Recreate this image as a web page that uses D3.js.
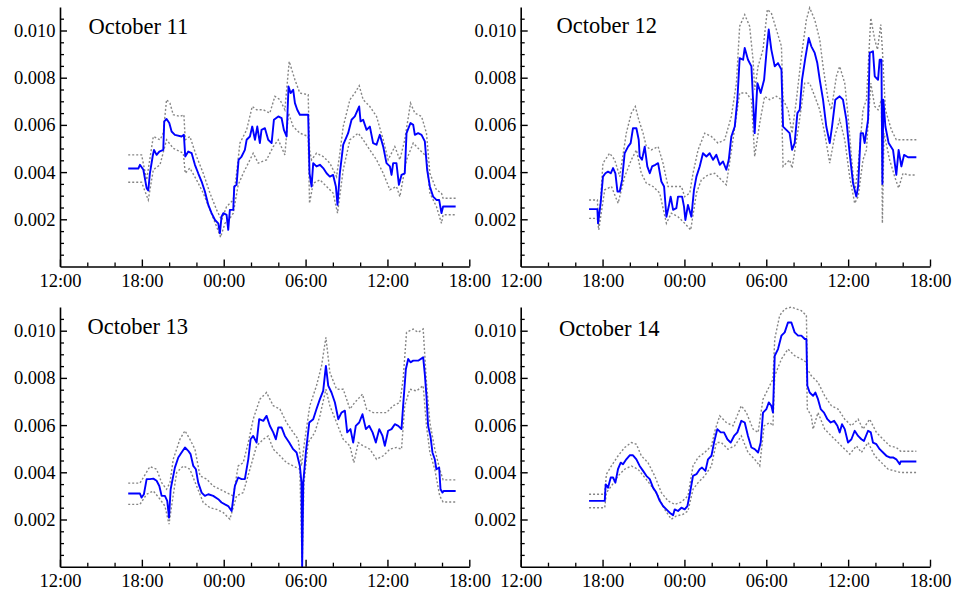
<!DOCTYPE html>
<html><head><meta charset="utf-8">
<script src="https://cdn.jsdelivr.net/npm/d3@7"></script>
<style>
body{margin:0;background:#fff}
svg{display:block}
text{font-family:"Liberation Serif","Times New Roman",serif !important;fill:#000}
</style>
</head><body>
<svg id="chart" width="957" height="596"></svg>
<script>
// Time = hours after 12:00 of the previous day; values in units of 1e-3
const panelTitles = ["October 11", "October 12", "October 13", "October 14"];
const xTickHours = [0, 6, 12, 18, 24, 30];
const xTickLabels = ["12:00", "18:00", "00:00", "06:00", "12:00", "18:00"];
const yTickValues = [0.002, 0.004, 0.006, 0.008, 0.010];

const oct11Mid = [[5.0,4.15],[5.74,4.15],[5.86,4.31],[6.11,4.10],[6.35,3.32],[6.47,3.22],[6.59,3.95],[6.79,4.66],[6.89,4.94],[7.08,4.73],[7.28,4.87],[7.57,4.94],[7.64,6.15],[7.81,6.25],[8.01,6.08],[8.18,5.72],[8.42,5.58],[8.91,5.51],[9.08,5.58],[9.18,4.66],[9.40,4.87],[9.65,4.80],[9.89,4.31],[10.13,3.95],[10.38,3.60],[10.62,3.18],[10.87,2.61],[11.11,2.26],[11.36,1.97],[11.60,1.83],[11.72,1.41],[11.84,2.11],[11.97,2.26],[12.21,2.19],[12.33,1.55],[12.45,2.40],[12.70,2.40],[12.77,3.39],[12.94,3.46],[13.09,4.52],[13.31,4.66],[13.55,4.94],[13.68,5.37],[13.92,5.51],[14.09,5.93],[14.29,5.37],[14.46,5.93],[14.65,5.23],[14.77,5.79],[15.02,5.86],[15.26,5.37],[15.51,5.23],[15.68,6.22],[16.00,6.36],[16.24,6.29],[16.41,5.79],[16.61,5.51],[16.75,7.63],[16.90,7.35],[17.09,7.49],[17.22,6.92],[17.39,6.64],[17.58,6.43],[18.19,6.43],[18.29,3.95],[18.44,3.39],[18.56,4.38],[18.80,4.24],[19.05,4.31],[19.29,4.17],[19.54,3.95],[19.78,3.81],[20.02,3.88],[20.22,3.39],[20.34,2.61],[20.51,3.95],[20.76,5.16],[21.12,5.65],[21.37,6.22],[21.61,6.36],[21.93,6.78],[22.03,6.15],[22.22,6.22],[22.47,5.79],[22.71,5.93],[22.95,5.23],[23.20,5.16],[23.44,5.58],[23.69,5.08],[23.93,4.38],[24.18,4.24],[24.30,3.88],[24.42,4.38],[24.66,4.38],[24.84,3.46],[25.03,3.88],[25.27,3.95],[25.40,5.65],[25.69,6.08],[25.89,6.00],[26.01,5.58],[26.25,5.65],[26.50,5.58],[26.74,5.30],[26.91,4.10],[27.11,3.39],[27.35,2.96],[27.59,2.82],[27.79,2.82],[27.96,2.26],[28.08,2.54],[29.0,2.54]];
const oct11Up = [[5.0,4.73],[5.98,4.73],[6.35,3.67],[6.84,5.51],[7.33,5.37],[7.57,5.65],[7.81,7.07],[8.06,6.92],[8.30,6.43],[8.79,6.36],[9.08,6.43],[9.18,5.37],[9.52,5.51],[10.01,4.66],[10.50,3.95],[10.99,3.11],[11.48,2.40],[11.84,1.97],[12.21,2.54],[12.70,2.82],[12.94,3.95],[13.19,5.23],[13.68,5.79],[14.09,6.78],[14.41,6.64],[14.90,6.64],[15.38,6.50],[15.75,7.21],[16.12,7.07],[16.48,6.64],[16.80,8.69],[17.22,7.91],[17.58,7.35],[18.19,7.28],[18.29,4.94],[18.44,4.52],[18.80,4.80],[19.29,4.66],[19.78,4.38],[20.27,3.81],[20.51,4.80],[20.76,5.93],[21.25,7.07],[21.61,7.35],[21.93,7.66],[22.22,7.07],[22.71,6.78],[23.20,6.36],[23.69,5.37],[24.05,4.52],[24.54,5.08],[24.91,4.52],[25.27,5.37],[25.69,6.92],[26.01,6.50],[26.50,6.36],[26.86,5.65],[27.11,3.95],[27.59,3.25],[27.96,3.11],[28.08,2.89],[29.0,2.89]];
const oct11Lo = [[5.0,3.57],[5.98,3.57],[6.47,2.82],[6.84,4.10],[7.33,4.31],[7.81,5.37],[8.30,5.01],[9.04,4.80],[9.18,3.95],[9.52,4.17],[10.01,3.67],[10.50,3.11],[10.99,2.40],[11.48,1.69],[11.77,1.24],[12.09,1.83],[12.45,2.04],[12.70,2.26],[13.06,3.46],[13.43,3.95],[14.16,4.80],[14.53,4.38],[15.14,4.52],[15.63,5.08],[16.00,5.37],[16.48,4.73],[16.75,6.50],[17.09,5.93],[17.58,5.65],[18.19,5.51],[18.29,2.68],[18.56,3.53],[19.05,3.67],[19.54,3.39],[20.02,3.11],[20.34,2.26],[20.76,4.10],[21.25,5.37],[21.86,5.65],[22.22,5.37],[22.71,4.94],[23.20,4.52],[23.69,3.95],[24.18,3.25],[24.66,3.39],[24.91,2.96],[25.40,4.52],[25.89,5.23],[26.37,4.94],[26.86,4.66],[27.11,3.11],[27.59,2.54],[27.96,1.83],[28.08,2.19],[29.0,2.19]];

const oct12Mid = [[5.01,2.43],[5.62,2.43],[5.67,1.83],[5.86,2.68],[6.03,3.81],[6.21,3.95],[6.40,4.02],[6.60,3.95],[6.77,4.17],[6.94,3.95],[7.09,3.18],[7.26,3.18],[7.43,3.67],[7.62,4.80],[7.87,5.08],[8.06,5.23],[8.23,5.86],[8.48,5.86],[8.65,5.37],[8.72,4.66],[8.89,4.52],[9.09,5.08],[9.28,4.24],[9.46,3.95],[9.63,4.24],[9.87,4.31],[10.07,4.38],[10.31,3.60],[10.51,3.39],[10.68,2.11],[10.85,2.54],[10.99,2.96],[11.17,2.40],[11.41,2.47],[11.53,2.96],[11.83,2.96],[11.97,2.54],[12.07,1.97],[12.26,2.61],[12.51,2.11],[12.70,3.25],[12.88,3.81],[13.12,4.24],[13.36,4.80],[13.61,4.66],[13.85,4.80],[14.10,4.52],[14.34,4.73],[14.59,4.31],[14.83,4.45],[15.07,4.10],[15.25,4.52],[15.44,5.51],[15.69,5.93],[15.88,7.07],[16.05,8.83],[16.30,8.76],[16.42,9.26],[16.66,8.76],[16.91,8.48],[17.03,7.07],[17.15,5.65],[17.35,7.77],[17.59,7.35],[17.84,7.91],[18.03,9.19],[18.18,10.04],[18.37,9.19],[18.62,8.48],[18.86,8.62],[19.11,8.34],[19.23,5.93],[19.47,5.79],[19.71,5.65],[19.89,4.94],[20.08,5.23],[20.28,6.50],[20.45,6.64],[20.62,7.91],[20.86,8.83],[21.11,9.68],[21.30,9.33],[21.55,9.05],[21.74,8.62],[21.92,7.91],[22.16,7.07],[22.40,5.93],[22.65,5.23],[22.82,5.93],[23.06,7.07],[23.38,7.21],[23.62,7.07],[23.87,6.22],[24.11,4.80],[24.36,3.53],[24.60,2.96],[24.73,3.39],[24.92,5.65],[25.09,5.65],[25.21,5.23],[25.46,6.22],[25.58,9.05],[25.82,9.12],[25.95,8.06],[26.19,7.91],[26.31,8.76],[26.44,8.76],[26.51,3.50],[26.58,7.07],[26.73,5.93],[26.97,5.23],[27.29,4.94],[27.53,3.88],[27.70,4.94],[27.90,4.24],[28.10,4.73],[28.39,4.63],[29.0,4.63]];
const oct12Up = [[5.01,2.82],[5.62,2.82],[5.72,1.69],[6.03,4.38],[6.52,4.80],[6.89,4.52],[7.26,3.81],[7.74,5.65],[8.11,6.50],[8.40,6.78],[8.65,6.22],[8.97,5.65],[9.21,5.08],[9.58,4.94],[10.07,5.08],[10.43,4.38],[10.80,3.39],[11.29,3.39],[11.78,3.39],[12.02,2.96],[12.39,3.11],[12.63,3.95],[13.00,4.94],[13.49,5.65],[13.98,5.51],[14.46,5.23],[14.95,5.37],[15.44,6.36],[15.81,7.77],[16.05,10.18],[16.42,10.67],[16.78,10.18],[17.03,8.76],[17.15,7.49],[17.40,8.48],[17.76,9.19],[18.08,10.89],[18.37,10.74],[18.74,10.04],[19.11,9.33],[19.23,7.07],[19.60,6.64],[19.89,5.65],[20.21,7.07],[20.57,8.90],[20.94,10.46],[21.18,10.96],[21.55,10.46],[21.92,9.61],[22.16,8.48],[22.53,7.07],[22.77,6.64],[23.14,8.06],[23.38,8.48],[23.75,7.77],[24.00,6.36],[24.24,4.66],[24.48,3.11],[24.73,4.24],[25.09,6.64],[25.34,7.07],[25.66,10.53],[25.95,9.61],[26.15,9.19],[26.39,10.25],[26.51,9.19],[26.73,6.64],[27.17,5.79],[27.53,5.37],[27.78,5.37],[29.0,5.37]];
const oct12Lo = [[5.01,2.04],[5.62,2.04],[5.72,1.55],[6.16,3.25],[6.65,3.39],[7.14,2.68],[7.62,3.81],[8.11,4.52],[8.48,4.94],[8.84,3.95],[9.21,3.53],[9.70,3.39],[10.19,3.11],[10.68,1.83],[11.04,2.26],[11.53,2.11],[12.02,1.83],[12.46,1.55],[12.88,3.11],[13.24,3.67],[13.73,3.88],[14.22,3.95],[14.71,3.67],[15.07,3.46],[15.56,5.37],[16.05,7.35],[16.54,7.35],[16.91,7.07],[17.15,4.66],[17.52,6.08],[17.88,7.21],[18.25,7.07],[18.74,7.21],[19.11,7.07],[19.23,4.24],[19.71,4.52],[19.89,4.17],[20.33,5.79],[20.82,7.77],[21.18,7.77],[21.55,7.21],[21.92,6.64],[22.28,5.65],[22.65,4.38],[23.01,5.51],[23.38,6.22],[23.75,5.37],[24.11,3.81],[24.48,2.68],[24.73,2.96],[25.09,4.52],[25.34,4.94],[25.66,7.77],[25.95,6.78],[26.19,6.64],[26.44,7.07],[26.51,1.83],[26.63,5.65],[27.04,4.52],[27.41,3.81],[27.70,3.32],[28.02,3.95],[28.39,3.88],[29.0,3.88]];

const oct13Mid = [[5.0,3.10],[5.86,3.10],[5.98,2.93],[6.15,3.07],[6.35,3.71],[6.59,3.71],[6.84,3.73],[7.08,3.64],[7.28,3.42],[7.45,3.00],[7.69,3.00],[7.86,2.79],[7.99,2.08],[8.11,3.28],[8.30,3.85],[8.42,4.20],[8.67,4.63],[8.91,4.84],[9.16,5.05],[9.40,4.91],[9.57,4.77],[9.77,4.27],[9.96,4.13],[10.13,3.56],[10.38,3.14],[10.62,3.00],[10.87,3.07],[11.23,3.00],[11.60,2.86],[11.84,2.72],[12.09,2.64],[12.33,2.57],[12.58,2.36],[12.82,3.42],[13.06,3.78],[13.31,3.71],[13.55,3.71],[13.80,4.55],[13.97,5.40],[14.16,5.54],[14.41,5.26],[14.60,6.25],[14.90,6.18],[15.14,6.39],[15.38,5.97],[15.63,5.69],[15.82,5.40],[16.00,5.90],[16.24,5.90],[16.48,5.54],[16.80,5.26],[17.09,4.98],[17.34,4.84],[17.58,4.27],[17.70,3.56],[17.75,0.0],[17.83,3.56],[18.02,4.84],[18.27,6.11],[18.56,6.25],[18.80,6.68],[19.05,7.10],[19.29,7.45],[19.49,8.51],[19.66,7.67],[19.90,7.38],[20.15,6.96],[20.40,6.25],[20.63,6.53],[20.88,6.61],[21.05,5.69],[21.29,5.83],[21.49,5.26],[21.68,5.97],[21.93,6.11],[22.17,6.46],[22.42,5.83],[22.66,5.97],[22.91,5.69],[23.15,5.26],[23.40,5.83],[23.64,5.54],[23.81,5.12],[24.05,5.76],[24.30,5.83],[24.54,6.04],[24.79,5.97],[25.03,5.83],[25.15,6.82],[25.35,8.37],[25.52,8.80],[25.69,8.66],[25.89,8.73],[26.25,8.73],[26.62,8.87],[26.74,8.16],[26.86,7.24],[26.98,5.97],[27.15,5.54],[27.30,4.84],[27.47,4.55],[27.59,4.13],[27.79,4.20],[27.89,3.28],[28.03,3.14],[28.13,3.21],[29.0,3.21]];
const oct13Up = [[5.0,3.54],[5.86,3.54],[6.11,3.78],[6.59,4.24],[7.08,4.13],[7.45,3.56],[7.81,3.28],[8.06,3.56],[8.30,4.55],[8.79,5.40],[9.16,5.76],[9.52,5.40],[9.89,4.98],[10.26,3.85],[10.75,3.71],[11.23,3.42],[11.72,3.28],[12.21,3.14],[12.70,3.00],[13.06,4.27],[13.43,4.41],[13.80,5.26],[14.16,6.25],[14.65,7.10],[15.14,7.38],[15.63,6.82],[16.12,6.68],[16.60,6.11],[17.09,5.69],[17.46,5.40],[17.70,4.27],[17.95,5.40],[18.31,6.82],[18.80,7.67],[19.17,8.51],[19.49,9.72],[19.78,8.23],[20.27,7.52],[20.76,7.52],[21.25,6.68],[21.61,6.96],[22.17,7.31],[22.47,6.68],[22.95,6.53],[23.44,6.53],[23.93,6.53],[24.42,6.82],[24.91,6.96],[25.15,7.95],[25.40,9.93],[25.89,10.07],[26.25,9.93],[26.62,10.07],[26.86,7.81],[27.11,6.11],[27.47,4.98],[27.83,4.13],[28.08,3.68],[29.0,3.68]];
const oct13Lo = [[5.0,2.64],[5.86,2.64],[6.35,3.07],[6.84,3.21],[7.33,2.86],[7.69,2.57],[7.99,1.80],[8.18,2.57],[8.55,3.99],[9.04,4.27],[9.52,4.13],[10.01,3.42],[10.50,2.72],[10.99,2.50],[11.48,2.43],[11.97,2.29],[12.45,2.01],[12.94,3.00],[13.43,3.14],[13.92,4.13],[14.41,5.12],[14.90,5.40],[15.26,5.54],[15.63,4.98],[16.12,4.70],[16.60,4.41],[17.09,4.27],[17.58,4.13],[17.75,0.0],[17.88,3.56],[18.19,5.26],[18.68,5.69],[19.05,6.39],[19.49,7.52],[19.78,6.82],[20.27,6.11],[20.76,5.40],[21.25,5.12],[21.54,4.41],[21.86,5.26],[22.22,5.12],[22.71,4.98],[23.20,4.55],[23.69,4.70],[24.18,4.98],[24.66,5.05],[25.03,4.98],[25.27,6.82],[25.64,7.52],[26.13,7.45],[26.62,7.67],[26.86,5.97],[27.11,4.84],[27.47,4.13],[27.83,3.00],[28.08,2.74],[29.0,2.74]];

const oct14Mid = [[5.01,2.79],[6.16,2.79],[6.23,3.49],[6.40,3.35],[6.60,3.78],[6.77,3.78],[6.94,3.56],[7.13,4.13],[7.33,4.41],[7.50,4.34],[7.74,4.55],[7.99,4.72],[8.23,4.72],[8.48,4.55],[8.72,4.27],[8.97,4.06],[9.21,3.85],[9.46,3.71],[9.70,3.35],[9.94,3.14],[10.19,2.79],[10.43,2.57],[10.68,2.43],[10.92,2.29],[11.17,2.18],[11.29,2.43],[11.53,2.36],[11.78,2.50],[12.02,2.43],[12.22,2.57],[12.39,3.07],[12.63,3.85],[12.88,3.92],[13.12,4.13],[13.29,4.20],[13.54,4.06],[13.73,4.55],[13.98,4.70],[14.17,5.26],[14.41,5.83],[14.66,5.69],[14.90,5.69],[15.15,5.40],[15.39,5.26],[15.64,5.54],[15.88,5.69],[16.17,6.18],[16.42,6.11],[16.66,5.54],[16.91,5.05],[17.15,4.98],[17.40,4.84],[17.59,5.26],[17.76,6.53],[18.01,6.68],[18.18,6.96],[18.37,6.82],[18.49,6.53],[18.62,8.94],[18.86,9.22],[19.11,9.79],[19.35,9.93],[19.59,10.35],[19.84,10.35],[20.08,9.93],[20.33,9.79],[20.57,9.79],[20.82,9.65],[20.94,9.65],[21.01,7.67],[21.18,7.38],[21.43,7.24],[21.60,7.38],[21.79,7.10],[21.99,6.68],[22.23,6.53],[22.48,6.25],[22.72,6.11],[22.97,6.18],[23.21,5.97],[23.38,5.69],[23.55,6.04],[23.75,5.83],[23.99,5.26],[24.24,5.40],[24.48,5.76],[24.73,5.54],[24.97,5.40],[25.16,5.33],[25.46,5.76],[25.66,5.69],[25.82,5.26],[26.07,5.19],[26.31,4.98],[26.56,4.84],[26.80,4.70],[27.05,4.63],[27.29,4.63],[27.53,4.55],[27.78,4.34],[27.85,4.46],[29.0,4.46]];
const oct14Up = [[5.01,3.07],[6.16,3.07],[6.28,3.92],[6.65,4.27],[7.14,4.70],[7.62,5.05],[8.11,5.26],[8.48,5.19],[8.84,4.70],[9.33,4.41],[9.82,3.85],[10.31,3.14],[10.80,2.79],[11.29,2.64],[11.78,2.74],[12.26,3.00],[12.63,4.27],[13.00,4.63],[13.49,4.84],[13.98,5.12],[14.27,5.83],[14.59,6.39],[15.07,6.11],[15.56,5.97],[16.17,6.82],[16.54,6.53],[17.03,5.83],[17.40,5.69],[17.76,7.10],[18.25,7.67],[18.49,7.95],[18.62,9.65],[18.98,10.64],[19.35,10.92],[19.84,11.0],[20.21,10.92],[20.57,10.85],[20.94,10.64],[21.01,8.37],[21.30,8.09],[21.79,7.81],[22.28,7.24],[22.77,6.82],[23.26,6.68],[23.75,6.25],[24.24,5.97],[24.73,6.25],[25.09,5.83],[25.58,6.25],[26.07,5.69],[26.56,5.40],[27.05,5.12],[27.53,5.05],[27.85,4.89],[29.0,4.89]];
const oct14Lo = [[5.01,2.50],[6.16,2.50],[6.28,3.14],[6.65,3.42],[7.14,3.85],[7.62,4.13],[8.11,4.27],[8.60,4.13],[9.09,3.78],[9.58,3.42],[10.07,3.00],[10.55,2.43],[11.04,2.01],[11.41,2.15],[11.90,2.22],[12.26,2.36],[12.63,3.28],[13.00,3.56],[13.49,3.85],[13.98,4.27],[14.34,5.26],[14.71,5.26],[15.19,4.98],[15.68,5.12],[16.17,5.54],[16.66,4.84],[17.15,4.55],[17.52,4.27],[17.84,5.97],[18.25,6.11],[18.49,5.97],[18.62,8.09],[19.11,8.80],[19.59,9.22],[20.08,8.94],[20.57,8.80],[20.94,8.66],[21.01,6.68],[21.30,6.39],[21.43,5.83],[21.79,6.53],[22.28,5.83],[22.77,5.54],[23.26,5.26],[23.75,4.98],[24.12,4.77],[24.61,5.12],[24.97,4.84],[25.46,5.26],[25.95,4.70],[26.44,4.41],[26.93,4.13],[27.41,4.06],[27.85,3.99],[29.0,3.99]];

const panelData = [
  {mid: oct11Mid, up: oct11Up, lo: oct11Lo},
  {mid: oct12Mid, up: oct12Up, lo: oct12Lo},
  {mid: oct13Mid, up: oct13Up, lo: oct13Lo},
  {mid: oct14Mid, up: oct14Up, lo: oct14Lo}
];

// layout (pixel geometry)
const layout = [
  {x0: 60,    x1: 469.3, y0: 266.5, tx: 88.5,  ty: 34.3},
  {x0: 520.7, x1: 930,   y0: 266.5, tx: 556.5, ty: 32.5},
  {x0: 60,    x1: 469.3, y0: 566.7, tx: 87.5,  ty: 333.5},
  {x0: 520.7, x1: 930,   y0: 566.7, tx: 559,   ty: 336}
];
const yMax = 0.011;
const yHeight = 259.6;

const svg = d3.select("#chart");
const tickFont = 18.5;

panelData.forEach((pd, i) => {
  const L = layout[i];
  const x = d3.scaleLinear().domain([0, 30]).range([L.x0, L.x1]);
  const y = d3.scaleLinear().domain([0, yMax]).range([L.y0, L.y0 - yHeight]);
  const g = svg.append("g");

  const line = d3.line().x(d => x(d[0])).y(d => y(d[1] / 1000));

  [pd.up, pd.lo].forEach(band => {
    g.append("path").datum(band).attr("d", line)
      .attr("fill", "none").attr("stroke", "#858585").attr("stroke-width", 1.4)
      .attr("stroke-dasharray", "2,2");
  });
  g.append("path").datum(pd.mid).attr("d", line)
    .attr("fill", "none").attr("stroke", "#0000ff").attr("stroke-width", 1.9)
    .attr("stroke-linejoin", "round");

  // minor ticks
  g.append("g").attr("transform", `translate(0,${L.y0})`)
    .call(d3.axisBottom(x).tickValues(d3.range(0, 31, 2).filter(h => h % 6 !== 0))
      .tickSizeInner(-4).tickSizeOuter(0).tickFormat(""))
    .call(a => a.select(".domain").remove())
    .selectAll("line").attr("stroke", "#000").attr("stroke-width", 1.3);
  g.append("g").attr("transform", `translate(${L.x0},0)`)
    .call(d3.axisLeft(y).tickValues(d3.range(1, 22).map(k => k * 0.0005).filter(v => Math.round(v * 10000) % 20 !== 0))
      .tickSizeInner(-4).tickSizeOuter(0).tickFormat(""))
    .call(a => a.select(".domain").remove())
    .selectAll("line").attr("stroke", "#000").attr("stroke-width", 1.3);

  // major axes
  const xa = g.append("g").attr("transform", `translate(0,${L.y0})`)
    .call(d3.axisBottom(x).tickValues(xTickHours)
      .tickFormat((d, k) => xTickLabels[k])
      .tickSizeInner(-7).tickSizeOuter(0).tickPadding(7));
  xa.select(".domain").attr("stroke", "#000").attr("stroke-width", 1.6);
  xa.selectAll("line").attr("stroke", "#000").attr("stroke-width", 1.4);
  xa.selectAll("text").attr("font-size", tickFont);

  const ya = g.append("g").attr("transform", `translate(${L.x0},0)`)
    .call(d3.axisLeft(y).tickValues(yTickValues)
      .tickFormat(d3.format(".3f"))
      .tickSizeInner(-7).tickSizeOuter(0).tickPadding(4.5));
  ya.select(".domain").attr("stroke", "#000").attr("stroke-width", 1.6);
  ya.selectAll("line").attr("stroke", "#000").attr("stroke-width", 1.4);
  ya.selectAll("text").attr("font-size", tickFont);

  g.append("text").attr("x", L.tx).attr("y", L.ty)
    .attr("font-size", 22.5).text(panelTitles[i]);
});
</script>
</body></html>
